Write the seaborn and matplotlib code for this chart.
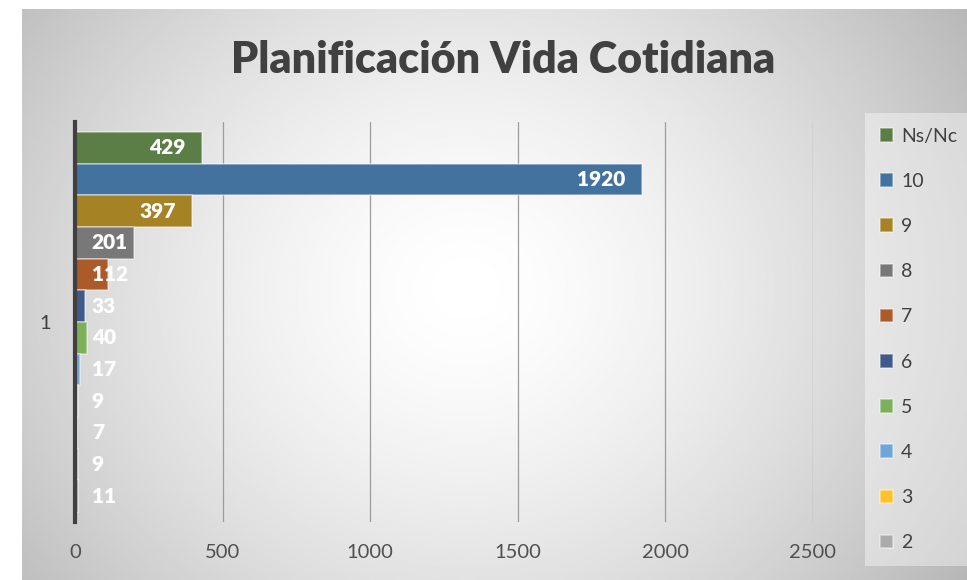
import numpy as np
import pandas as pd
import matplotlib
matplotlib.use("Agg")
import matplotlib.pyplot as plt
import seaborn as sns

# datos
respuestas = ["Ns/Nc", "10", "9", "8", "7", "6", "5", "4", "3", "2", "1", "0"]
valores = [429, 1920, 397, 201, 112, 33, 40, 17, 9, 7, 9, 11]
colores = ["#5A7E45", "#44729F", "#A58224", "#787878", "#AB5A2A", "#3F5A8A",
           "#7DB05B", "#6FA6DA", "#FFC22A", "#ABABAB", "#F1975A", "#6A8FD0"]
categoria = ["1"] * len(respuestas)
xticks = [0, 500, 1000, 1500, 2000, 2500]
titulo = "Planificación Vida Cotidiana"

df = pd.DataFrame({"categoria": categoria, "respuesta": respuestas, "valor": valores})

sns.set_theme(style="white")
plt.rcParams["font.family"] = ["Lato", "DejaVu Sans"]

W, H = 967, 580
fig = plt.figure(figsize=(W / 100, H / 100), dpi=100)

# fondo con degradado radial (estilo Excel)
bg = fig.add_axes([22 / W, 0, 1 - 22 / W, 1 - 9 / H], zorder=-1)
yy, xx = np.mgrid[-1:1:300j, -1:1:500j]
dx = xx + 0.06
dy = yy + 0.02
val = 1 - 0.2 * (dx ** 2 + 0.45 * dy ** 2) ** 0.75
bg.imshow(val, cmap="gray", vmin=0, vmax=1, aspect="auto", interpolation="bilinear")
bg.set_axis_off()

ax = fig.add_axes([75 / W, 1 - 522 / H, 738 / W, 400 / H])
ax.set_facecolor("none")

sns.barplot(data=df, x="valor", y="categoria", hue="respuesta",
            hue_order=respuestas, palette=colores, orient="h",
            width=0.95, gap=0, saturation=1,
            edgecolor=(1, 1, 1, 0.45), linewidth=1.2, ax=ax)

handles, labels = ax.get_legend_handles_labels()
ax.get_legend().remove()

ax.set_xlim(0, 2500)
ax.set_xticks(xticks)
ax.set_xlabel("")
ax.set_ylabel("")
ax.grid(axis="x", color="#9C9C9C", lw=0.9)
ax.set_axisbelow(True)
for s in ["top", "right", "bottom"]:
    ax.spines[s].set_visible(False)
ax.spines["left"].set_color("#404040")
ax.spines["left"].set_linewidth(3)
ax.tick_params(axis="x", length=0, pad=16, labelsize=14.5, labelcolor="#505050")
ax.tick_params(axis="y", length=0, pad=17, labelsize=14.5, labelcolor="#404040")

# etiquetas de datos
for cont in ax.containers:
    for patch, v in zip(cont.patches, cont.datavalues):
        yc = patch.get_y() + patch.get_height() / 2
        if v > 300:
            ax.annotate(f"{v:.0f}", (v, yc), xytext=(-12, 0), textcoords="offset points",
                        ha="right", va="center", color="white", fontsize=15, fontweight="heavy")
        else:
            ax.annotate(f"{v:.0f}", (0, yc), xytext=(12, 0), textcoords="offset points",
                        ha="left", va="center", color="white", fontsize=15, fontweight="heavy")

fig.text(503 / W, 1 - 60 / H, titulo, ha="center", va="center",
         fontsize=31, fontweight="heavy", color="#404040")

# la leyenda de Excel solo muestra las 10 primeras entradas
leg = fig.legend(handles[:10], labels[:10], loc="upper left",
                 bbox_to_anchor=(865 / W, 1 - 113 / H), borderaxespad=0,
                 frameon=True, fancybox=False, facecolor="white", framealpha=0.4,
                 edgecolor="none", fontsize=14, labelspacing=1.45,
                 handlelength=0.7, handleheight=0.7, handletextpad=0.4,
                 borderpad=0.75, labelcolor="#404040")

fig.savefig("out.png", dpi=100)
